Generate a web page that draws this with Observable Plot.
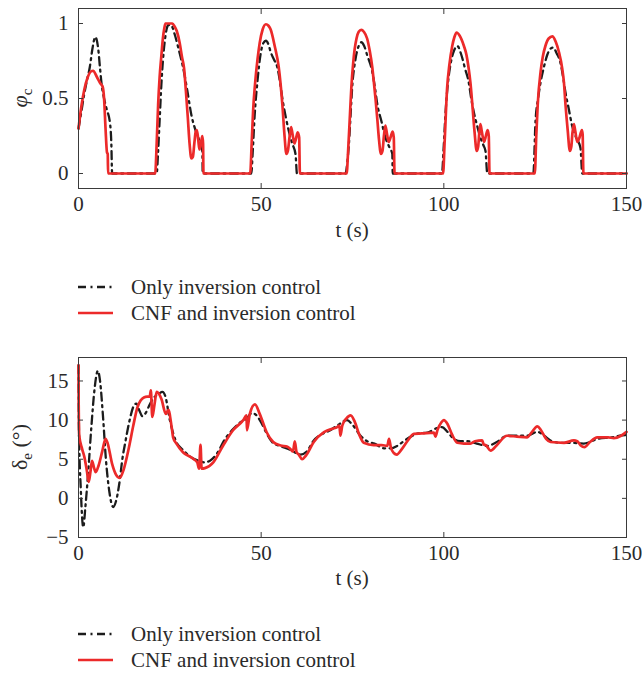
<!DOCTYPE html>
<html><head><meta charset="utf-8">
<script src="https://cdn.jsdelivr.net/npm/d3@7"></script>
<script src="https://cdn.jsdelivr.net/npm/@observablehq/plot@0.6"></script>
<style>
html,body{margin:0;padding:0;background:#fff;}
body{width:642px;height:673px;position:relative;overflow:hidden;font-family:"Liberation Serif","DejaVu Serif",serif;}
.panel{position:absolute;left:0;}
.legend{position:absolute;left:0;}
</style></head><body>
<div id="p1" class="panel" style="top:0px"></div>
<div id="l1" class="legend" style="top:272px"></div>
<div id="p2" class="panel" style="top:340px"></div>
<div id="l2" class="legend" style="top:619px"></div>
<script>
// ---- data ----
const seriesNames = ["Only inversion control", "CNF and inversion control"];
const xTicks = [0, 50, 100, 150];
const phiTicks = [0, 0.5, 1];
const deTicks = [-5, 0, 5, 10, 15];

// phi_c, only inversion control
const tPhiOnly = [0,0.7,1.5,2.3,3.1,3.8,4.6,5.0,5.4,5.9,6.3,7.0,7.7,8.6,9.0,9.2,
 21.4,21.8,22.2,22.7,23.1,23.6,24.1,24.6,25.3,26.3,27.5,28.6,29.8,30.9,32.0,33.2,33.9,34.0,
 47.3,47.7,48.2,49.0,49.8,50.6,51.3,52.0,52.6,53.5,54.4,55.1,55.8,56.7,57.6,58.5,59.4,59.8,
 73.1,73.6,74.0,74.5,74.9,75.8,76.7,77.4,78.2,79.0,80.4,81.1,81.8,82.9,84.0,85.0,85.9,86.0,
 99.5,99.9,100.5,101.2,102.0,102.8,103.7,104.8,105.8,106.8,107.5,108.2,109.1,110.0,110.8,111.4,111.9,
 124.5,125.1,125.8,126.5,127.4,128.3,129.1,129.9,130.9,131.9,132.6,133.3,134.2,135.1,136.2,137.4,137.9,150];
const phiOnly = [0.30,0.40,0.52,0.62,0.71,0.83,0.91,0.89,0.83,0.70,0.60,0.50,0.43,0.34,0.19,0,
 0,0.15,0.35,0.60,0.75,0.88,0.96,0.99,0.99,0.93,0.82,0.71,0.55,0.39,0.29,0.21,0.15,0,
 0,0.15,0.38,0.62,0.79,0.87,0.885,0.86,0.81,0.76,0.71,0.62,0.50,0.38,0.28,0.20,0.13,0,
 0,0.08,0.19,0.40,0.57,0.76,0.85,0.875,0.85,0.79,0.68,0.58,0.46,0.35,0.24,0.18,0.13,0,
 0,0.15,0.42,0.62,0.75,0.82,0.85,0.79,0.70,0.61,0.50,0.41,0.32,0.24,0.19,0.15,0,
 0,0.35,0.50,0.61,0.71,0.79,0.83,0.84,0.80,0.74,0.65,0.54,0.43,0.32,0.24,0.17,0,0];

// phi_c, CNF and inversion control
const tPhiCnf = [0,0.8,1.6,2.5,3.4,4.0,5.0,6.0,6.6,7.0,7.4,7.8,8.0,8.1,
 21.0,21.4,21.8,22.2,22.7,23.1,23.5,23.8,25.7,26.3,26.9,27.7,28.3,28.9,29.4,29.9,30.4,30.9,31.3,31.7,32.1,32.4,32.8,33.1,33.5,33.9,34.1,34.2,
 47.0,47.4,47.8,48.3,49.0,49.6,50.4,51.3,52.0,52.6,53.7,54.8,55.3,55.8,56.4,56.9,57.3,57.8,58.2,58.6,59.1,59.6,60.0,60.4,60.6,
 73.4,73.8,74.3,74.7,75.2,75.6,76.1,76.7,77.4,78.1,79.0,79.7,80.4,80.8,81.3,81.8,82.2,82.8,83.2,83.6,84.0,84.4,84.9,85.4,86.0,86.3,86.5,
 99.8,100.2,100.9,101.5,102.3,102.9,103.5,104.3,105.5,106.2,106.8,107.3,107.8,108.4,109.0,109.4,109.7,110.0,110.4,111.0,111.4,112.0,112.3,112.5,
 124.9,125.3,125.7,126.5,127.1,127.8,128.7,129.7,130.6,131.5,132.4,132.9,133.3,133.9,134.5,134.9,135.2,135.6,136.0,136.5,137.0,137.8,138.0,138.2,150];
const phiCnf = [0.30,0.45,0.56,0.64,0.68,0.685,0.645,0.60,0.58,0.50,0.30,0.14,0.13,0,
 0,0.20,0.46,0.64,0.79,0.90,0.97,1.0,1.0,0.98,0.95,0.87,0.78,0.70,0.55,0.38,0.20,0.10,0.11,0.20,0.28,0.29,0.22,0.16,0.20,0.25,0.20,0,
 0,0.20,0.42,0.59,0.76,0.87,0.96,0.995,0.985,0.96,0.85,0.71,0.60,0.46,0.25,0.13,0.15,0.25,0.31,0.26,0.20,0.24,0.275,0.24,0,
 0,0.15,0.39,0.58,0.74,0.83,0.90,0.945,0.958,0.945,0.90,0.82,0.71,0.62,0.50,0.36,0.24,0.13,0.15,0.25,0.32,0.27,0.21,0.24,0.28,0.24,0,
 0,0.20,0.57,0.72,0.85,0.91,0.94,0.92,0.85,0.79,0.70,0.60,0.46,0.28,0.15,0.18,0.27,0.33,0.28,0.21,0.24,0.29,0.25,0,
 0,0.25,0.46,0.68,0.78,0.85,0.90,0.914,0.88,0.81,0.70,0.60,0.46,0.29,0.15,0.18,0.27,0.33,0.28,0.21,0.23,0.29,0.26,0,0];

// delta_e, only inversion control
const tDeOnly = [0,0.15,0.6,1.3,1.9,2.6,3.5,4.4,5.3,5.9,6.7,7.5,8.4,9.5,10.3,11.2,12.0,12.9,14.0,15.1,15.8,16.6,17.5,18.5,19.5,20.5,21.8,23.0,23.8,25.0,26.5,28.8,31.0,33.0,34.5,36.0,38.0,40.0,42.0,44.0,46.0,47.5,48.5,50.0,51.5,53.0,55.0,56.2,58.0,60.8,62.5,64.4,66.5,68.5,70.8,73.5,75.0,77.2,79.0,81.0,83.6,85.5,87.2,89.0,90.6,93.0,95.5,98.2,99.5,101.0,102.7,104.5,106.4,109.0,111.9,114.5,117.3,120.0,122.8,125.6,127.5,129.2,132.0,135.0,138.3,140.0,142.0,146.0,149.7,150];
const deOnly = [17,8,1.5,-3.7,-1.0,3.0,9.0,14.0,16.3,15.0,10.5,5.0,1.0,-1.1,-0.3,2.0,5.0,7.4,10.0,11.8,12.1,11.3,10.5,11.0,12.0,12.8,13.3,13.6,13.0,10.0,7.5,6.1,5.2,4.8,4.6,4.8,5.8,7.5,8.7,9.6,10.2,10.9,10.7,9.7,8.3,7.2,6.7,6.5,6.2,5.6,6.0,7.4,8.2,8.6,9.3,10.0,9.4,8.0,7.3,7.0,6.4,6.4,6.7,7.3,7.8,8.3,8.4,9.0,9.1,8.5,7.6,7.3,7.3,7.0,6.7,7.2,8.0,8.0,8.0,8.5,8.0,7.4,7.1,7.1,7.0,7.2,7.6,7.8,8.1,8.1];

// delta_e, CNF and inversion control
const tDeCnf = [0,0.05,0.2,1.0,1.6,2.3,2.8,3.3,3.7,4.2,4.7,5.5,6.5,7.4,8.0,9.2,10.3,11.3,12.3,13.8,15.0,16.1,17.0,17.9,18.8,19.5,19.8,20.2,20.8,21.4,22.7,23.9,24.6,25.5,25.9,26.8,28.6,31.4,32.5,33.0,33.4,33.7,34.6,36.9,39.6,42.3,45.1,46.0,46.1,46.9,48.3,49.6,51.5,53.3,55.3,57.2,58.0,58.7,59.2,59.7,60.3,61.2,62.3,64.4,67.2,69.5,70.8,71.4,71.7,72.2,73.3,74.5,75.6,76.8,78.1,80.8,83.0,84.5,85.0,85.5,86.3,87.1,88.5,90.0,91.8,94.0,97.3,97.7,98.3,99.3,100.0,101.0,102.2,103.7,105.5,107.3,108.5,110.5,110.9,111.5,112.8,114.5,117.3,120.0,122.8,124.0,125.6,126.6,128.0,129.2,132.9,135.6,136.5,137.4,138.5,140.0,142.0,145.0,146.5,148.5,150];
const deCnf = [17.0,12.0,8.0,6.3,5.3,3.5,2.1,3.5,4.8,4.0,3.35,4.2,6.0,7.6,7.0,4.4,3.0,2.6,3.6,6.5,9.3,11.6,12.5,12.9,13.0,13.0,13.8,10.4,12.0,13.6,12.7,10.8,11.3,9.1,7.8,7.0,5.9,5.06,4.6,3.8,6.85,3.8,3.86,4.6,6.76,8.7,10.0,10.6,8.7,10.8,12.0,10.8,8.45,7.2,6.76,6.6,6.3,6.0,7.3,5.9,5.6,5.0,5.5,7.2,8.45,8.9,9.1,9.3,8.0,9.3,10.2,10.6,9.8,8.2,7.1,6.8,6.8,6.7,7.6,6.5,5.8,5.6,6.3,7.3,8.25,8.3,8.4,7.9,8.8,9.7,10.0,9.5,8.2,7.1,7.0,7.0,7.3,7.4,6.9,6.8,6.1,6.8,8.0,7.9,7.8,8.4,9.2,8.7,7.6,7.2,7.1,7.4,7.3,6.8,6.55,7.2,7.8,7.8,7.7,8.0,8.5];

// ---- styling ----
const RED = "#ec2a2a", BLACK = "#1c1c1c", AXIS = "#3a3a3a", TXT = "#2a2a2a";
const FONT = "Liberation Serif";
const DASH = "8,4.5,2,4.5";

function zip(t, v) { return t.map((d, i) => ({t: d, v: v[i]})); }

function panel(el, opts) {
  const {yDomain, yTicks, yFmt, only, cnf, marginTop, height} = opts;
  const chart = Plot.plot({
    width: 642, height,
    marginLeft: 78, marginRight: 16, marginTop, marginBottom: 57,
    style: {fontFamily: FONT, fontSize: "21px", color: TXT, background: "white", overflow: "visible"},
    x: {domain: [0, 150]},
    y: {domain: yDomain},
    marks: [
      Plot.line(only, {x: "t", y: "v", stroke: BLACK, strokeWidth: 2.3, strokeDasharray: DASH, curve: "monotone-x"}),
      Plot.line(cnf, {x: "t", y: "v", stroke: RED, strokeWidth: 2.7, curve: "monotone-x"}),
      Plot.frame({stroke: AXIS, strokeWidth: 1}),
      Plot.axisX({anchor: "bottom", ticks: xTicks, tickSize: 0, tickPadding: 8, label: null, fill: TXT}),
      Plot.axisX({anchor: "bottom", ticks: xTicks, tickSize: -5, tickFormat: () => "", label: null, stroke: AXIS}),
      Plot.axisX({anchor: "top", ticks: xTicks, tickSize: -5, tickFormat: () => "", label: null, stroke: AXIS}),
      Plot.axisY({anchor: "left", ticks: yTicks, tickFormat: yFmt, tickSize: 0, tickPadding: 10, label: null, fill: TXT}),
      Plot.axisY({anchor: "left", ticks: yTicks, tickSize: -5, tickFormat: () => "", label: null, stroke: AXIS}),
      Plot.axisY({anchor: "right", ticks: yTicks, tickSize: -5, tickFormat: () => "", label: null, stroke: AXIS})
    ]
  });
  document.getElementById(el).appendChild(chart);
  return d3.select(chart);
}

// top panel
const s1 = panel("p1", {
  yDomain: [-0.1, 1.1], yTicks: phiTicks, yFmt: d => String(d),
  only: zip(tPhiOnly, phiOnly), cnf: zip(tPhiCnf, phiCnf), marginTop: 8, height: 245
});
s1.append("text").attr("x", 352).attr("y", 237).attr("text-anchor", "middle")
  .attr("font-family", FONT).attr("font-size", 21).attr("fill", TXT).text("t (s)");
{
  const g = s1.append("text").attr("transform", "translate(27,98) rotate(-90)").attr("text-anchor", "middle")
    .attr("font-family", FONT).attr("font-size", 22).attr("fill", TXT);
  g.append("tspan").attr("font-style", "italic").text("φ");
  g.append("tspan").attr("font-size", 15).attr("dy", 5).text("c");
}

// bottom panel
const s2 = panel("p2", {
  yDomain: [-5, 18], yTicks: deTicks, yFmt: d => d < 0 ? "\u2212" + Math.abs(d) : String(d),
  only: zip(tDeOnly, deOnly), cnf: zip(tDeCnf, deCnf), marginTop: 17, height: 254
});
s2.append("text").attr("x", 352).attr("y", 245).attr("text-anchor", "middle")
  .attr("font-family", FONT).attr("font-size", 21).attr("fill", TXT).text("t (s)");
{
  const g = s2.append("text").attr("transform", "translate(27,107) rotate(-90)").attr("text-anchor", "middle")
    .attr("font-family", FONT).attr("font-size", 22).attr("fill", TXT);
  g.append("tspan").text("δ");
  g.append("tspan").attr("font-size", 15).attr("dy", 5).text("e");
  g.append("tspan").attr("dy", -5).text(" (°)");
}

// legends
function legend(el) {
  const svg = d3.select("#" + el).append("svg").attr("width", 642).attr("height", 55);
  const rows = [{name: seriesNames[0], stroke: BLACK, dash: DASH, w: 2.3}, {name: seriesNames[1], stroke: RED, dash: null, w: 2.7}];
  rows.forEach((r, i) => {
    const y = 15 + i * 26;
    svg.append("line").attr("x1", 78).attr("x2", 113).attr("y1", y).attr("y2", y)
      .attr("stroke", r.stroke).attr("stroke-width", r.w).attr("stroke-dasharray", r.dash);
    svg.append("text").attr("x", 131).attr("y", y).attr("dy", "0.33em")
      .attr("font-family", FONT).attr("font-size", 21).attr("fill", TXT).text(r.name);
  });
}
legend("l1");
legend("l2");
</script>
</body></html>
